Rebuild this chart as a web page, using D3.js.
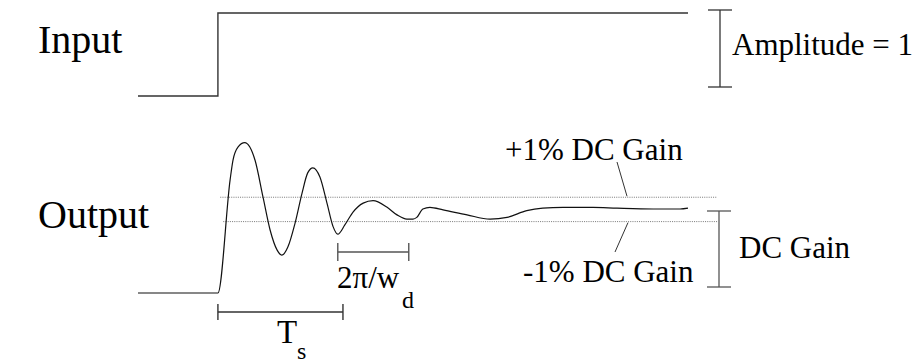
<!DOCTYPE html>
<html><head><meta charset="utf-8">
<script src="https://cdn.jsdelivr.net/npm/d3@7"></script>
<style>
body{margin:0;background:#fff}
svg{display:block}
svg text{font-family:"Liberation Serif","Times New Roman",Tinos,FreeSerif,"Nimbus Roman","DejaVu Serif" !important;fill:#000}
</style>
</head><body><svg id="c" width="919" height="364"></svg>
<script>
// time axis (arbitrary units), value axis (fraction of final value)
const inputT = [-1.7, 0, 10];
const inputV = [0, 1, 1];
const outT = [-1.7,0,0.26,0.32,0.43,0.57,0.79,0.96,1.11,1.26,1.36,1.49,1.64,1.79,1.91,2.02,2.17,2.32,2.45,2.55,2.70,2.87,3.09,3.30,3.60,3.81,4.02,4.15,4.23,4.36,4.51,4.79,5.30,5.79,6.15,6.57,6.91,7.34,7.98,8.49,9.26,9.83,10.00];
const outV = [0,0,1.35,1.58,1.74,1.79,1.58,1.14,0.75,0.51,0.45,0.55,0.83,1.19,1.43,1.49,1.38,1.07,0.79,0.70,0.81,0.96,1.07,1.10,1.02,0.93,0.88,0.88,0.90,1.00,1.02,0.99,0.93,0.88,0.90,0.98,1.01,1.02,1.02,1.01,1.00,1.00,1.01];
const bandV = [1.14, 0.85];          // "+1%" and "-1%" tolerance lines (schematic)
const bandT = [0.05, 10.62];
const settleT = [0, 2.66];           // Ts
const periodT = [2.55, 4.06];        // 2π/wd (trough to trough)
const labels = {input:"Input", output:"Output", amp:"Amplitude = 1", plus:"+1% DC Gain", minus:"-1% DC Gain", dc:"DC Gain"};
const fams = ["Liberation Serif","Times New Roman","Tinos","FreeSerif","Nimbus Roman","DejaVu Serif"];
const famList = fams.map(f=>`"${f}"`).join(", ");

const svg = d3.select("#c");
const x = d3.scaleLinear().domain([-1.7, 10]).range([138, 688]);
const yIn = d3.scaleLinear().domain([0, 1]).range([96, 13]);
const yOut = d3.scaleLinear().domain([0, 1]).range([293, 209]);

const inData = inputT.map((t,i)=>[t,inputV[i]]);
const outData = outT.map((t,i)=>[t,outV[i]]);

svg.append("path").datum(inData)
  .attr("d", d3.line().x(d=>x(d[0])).y(d=>yIn(d[1])).curve(d3.curveStepAfter))
  .attr("fill","none").attr("stroke","#333").attr("stroke-width",1.4);

bandV.forEach((v,i)=>{
  svg.append("line").attr("x1",x(bandT[0])+ (i?3:0)).attr("x2",x(bandT[1])+(i?1:0))
    .attr("y1",yOut(v)).attr("y2",yOut(v))
    .attr("stroke","#777").attr("stroke-width",1).attr("stroke-dasharray","1,1.2");
});

svg.append("path").datum(outData)
  .attr("d", d3.line().x(d=>x(d[0])).y(d=>yOut(d[1])).curve(d3.curveMonotoneX))
  .attr("fill","none").attr("stroke","#111").attr("stroke-width",1.2);

function hbracket(x1,x2,y,h,col){
  const g=svg.append("g").attr("stroke",col).attr("stroke-width",1.4);
  g.append("line").attr("x1",x1).attr("x2",x2).attr("y1",y).attr("y2",y);
  g.append("line").attr("x1",x1).attr("x2",x1).attr("y1",y-h).attr("y2",y+h);
  g.append("line").attr("x1",x2).attr("x2",x2).attr("y1",y-h).attr("y2",y+h);
}
function vbracket(xc,y1,y2,w,col){
  const g=svg.append("g").attr("stroke",col).attr("stroke-width",1.3);
  g.append("line").attr("x1",xc).attr("x2",xc).attr("y1",y1).attr("y2",y2);
  g.append("line").attr("x1",xc-w).attr("x2",xc+w).attr("y1",y1).attr("y2",y1);
  g.append("line").attr("x1",xc-w).attr("x2",xc+w).attr("y1",y2).attr("y2",y2);
}
hbracket(x(settleT[0]), x(settleT[1]), 312, 8, "#333");
hbracket(x(periodT[0]), x(periodT[1]), 252, 9, "#555");
vbracket(720, yIn(1)-3, yIn(0)-9, 12, "#333");
vbracket(719, 211, 287, 12, "#555");

svg.append("line").attr("x1",617).attr("y1",162).attr("x2",627).attr("y2",yOut(bandV[0])-1).attr("stroke","#333").attr("stroke-width",1);
svg.append("line").attr("x1",628).attr("y1",yOut(bandV[1])+1).attr("x2",615).attr("y2",252).attr("stroke","#333").attr("stroke-width",1);

function txt(s,xx,yy,fs){return svg.append("text").attr("x",xx).attr("y",yy)
  .attr("font-family",famList)
  .style("font-family",famList).style("font-size",`${fs}px`).text(s);}
txt(labels.input, 38, 53, 40);
txt(labels.output, 38, 228, 40);
txt(labels.amp, 732, 55, 31);
txt(labels.plus, 505, 160, 31);
txt(labels.minus, 523, 282, 31);
txt(labels.dc, 739, 258, 31);
txt("2\u03C0/w", 337, 288, 31);
txt("d", 402, 308, 24);
txt("T", 277, 343, 33);
txt("s", 297, 359, 24);
</script></body></html>
